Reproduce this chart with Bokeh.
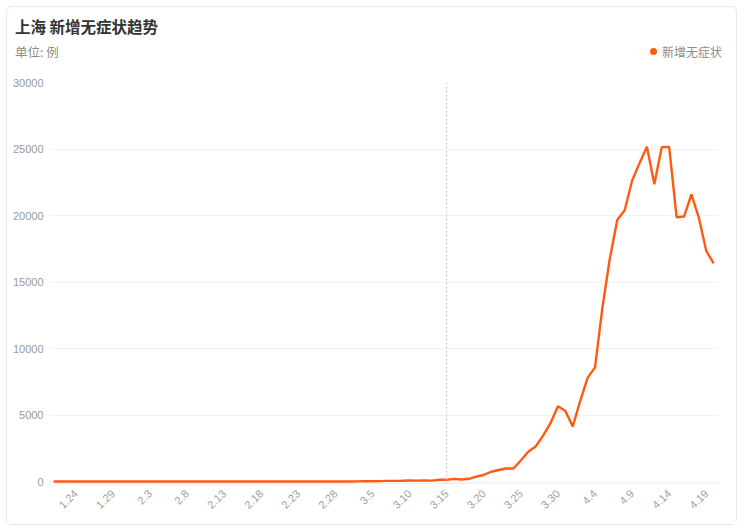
import math
from bokeh.plotting import figure
from bokeh.layouts import column
from bokeh.models import Range1d, FixedTicker, Span, Div, ColumnDataSource
from bokeh.embed import file_html
from bokeh.resources import INLINE

# ---- data (report dates 1.21 .. 4.20) ----
months = [(1, 21, 31), (2, 1, 28), (3, 1, 31), (4, 1, 20)]
dates = [f"{m}.{d}" for m, a, b in months for d in range(a, b + 1)]

values_jan = [0, 0, 1, 0, 0, 0, 1, 0, 0, 0, 0]
values_feb = [0, 0, 0, 1, 0, 0, 0, 0, 0, 0,
              0, 0, 0, 0, 0, 0, 0, 1, 0, 2,
              4, 3, 8, 5, 3, 2, 6, 1]
values_mar = [1, 1, 7, 14, 16, 28, 45, 51, 62, 76,
              64, 78, 64, 128, 130, 197, 150, 203, 366, 492,
              734, 865, 977, 979, 1580, 2231, 2631, 3450, 4381, 5656,
              5298]
values_apr = [4144, 6051, 7788, 8581, 13086, 16766, 19660, 20398, 22609, 23937,
              25173, 22348, 25141, 25146, 19872, 19923, 21582, 19831, 17332, 16407]
values = values_jan + values_feb + values_mar + values_apr

tick_labels = ["1.24", "1.29", "2.3", "2.8", "2.13", "2.18", "2.23", "2.28", "3.5",
               "3.10", "3.15", "3.20", "3.25", "3.30", "4.4", "4.9", "4.14", "4.19"]
y_ticks = [0, 5000, 10000, 15000, 20000, 25000, 30000]
marker_date = "3.15"

title_text = "上海 新增无症状趋势"
unit_text = "单位: 例"
series_name = "新增无症状"

LINE_COLOR = "#ff5a0f"
CJK = "Noto Sans CJK SC"
LAT = "Liberation Sans"
W = 729
HEAD_H = 69

# ---- header: title, unit and legend ----
header_html = f"""
<div style="position:relative;width:{W}px;height:{HEAD_H}px;font-family:'{CJK}',sans-serif;">
  <div style="position:absolute;left:8px;top:8px;font-size:15.5px;font-weight:bold;
              color:#333333;line-height:22px;white-space:nowrap;">{title_text}</div>
  <div style="position:absolute;left:8px;top:36px;font-size:12.5px;color:#8c8c8c;
              line-height:18px;white-space:nowrap;">{unit_text}</div>
  <div style="position:absolute;left:643px;top:41px;width:7px;height:7px;border-radius:50%;
              background:{LINE_COLOR};"></div>
  <div style="position:absolute;left:655px;top:36px;font-size:12px;color:#8c8c8c;
              line-height:18px;white-space:nowrap;">{series_name}</div>
</div>
"""
header = Div(text=header_html, width=W, height=HEAD_H, margin=0)

# ---- main chart ----
x = list(range(len(dates)))
src = ColumnDataSource(dict(x=x, y=values, date=dates))

p = figure(width=W, height=448, output_backend="svg", toolbar_location=None,
           x_range=Range1d(-0.55, len(dates) - 1 + 0.65),
           y_range=Range1d(-150, 30000),
           min_border_left=42, min_border_right=18, min_border_top=6, min_border_bottom=41,
           margin=0)
p.outline_line_color = None
p.background_fill_color = "white"
p.border_fill_color = "white"

p.line("x", "y", source=src, line_color=LINE_COLOR, line_width=2.4, legend_label=series_name)
p.legend.visible = False

tick_idx = [dates.index(t) for t in tick_labels]
p.xaxis.ticker = FixedTicker(ticks=tick_idx)
p.xaxis.major_label_overrides = {i: dates[i] for i in tick_idx}
p.xaxis.major_label_orientation = math.pi / 4
p.xaxis.major_label_text_font = LAT
p.xaxis.major_label_text_font_size = "11px"
p.xaxis.major_label_text_color = "#a0a0a0"
p.xaxis.axis_line_color = "#eeeeee"
p.xaxis.major_tick_line_color = None
p.xaxis.minor_tick_line_color = None
p.xaxis.major_tick_out = 0
p.xaxis.major_label_standoff = 8

p.yaxis.ticker = FixedTicker(ticks=y_ticks)
p.yaxis.major_label_text_font = LAT
p.yaxis.major_label_text_font_size = "11px"
p.yaxis.major_label_text_color = "#999999"
p.yaxis.axis_line_color = None
p.yaxis.major_tick_line_color = None
p.yaxis.minor_tick_line_color = None
p.yaxis.major_tick_out = 0
p.yaxis.major_label_standoff = 6

p.xgrid.grid_line_color = None
p.ygrid.grid_line_color = "#f2f2f2"

p.add_layout(Span(location=dates.index(marker_date), dimension="height",
                  line_color="#c8c8c8", line_width=1, line_dash="2 2"))

page = column(header, p, spacing=0,
              styles={"border": "1px solid #e8e8e8", "border-radius": "6px",
                      "margin-left": "6px", "margin-top": "6px",
                      "background": "white"})

open("out.html", "w").write(file_html(page, INLINE))
